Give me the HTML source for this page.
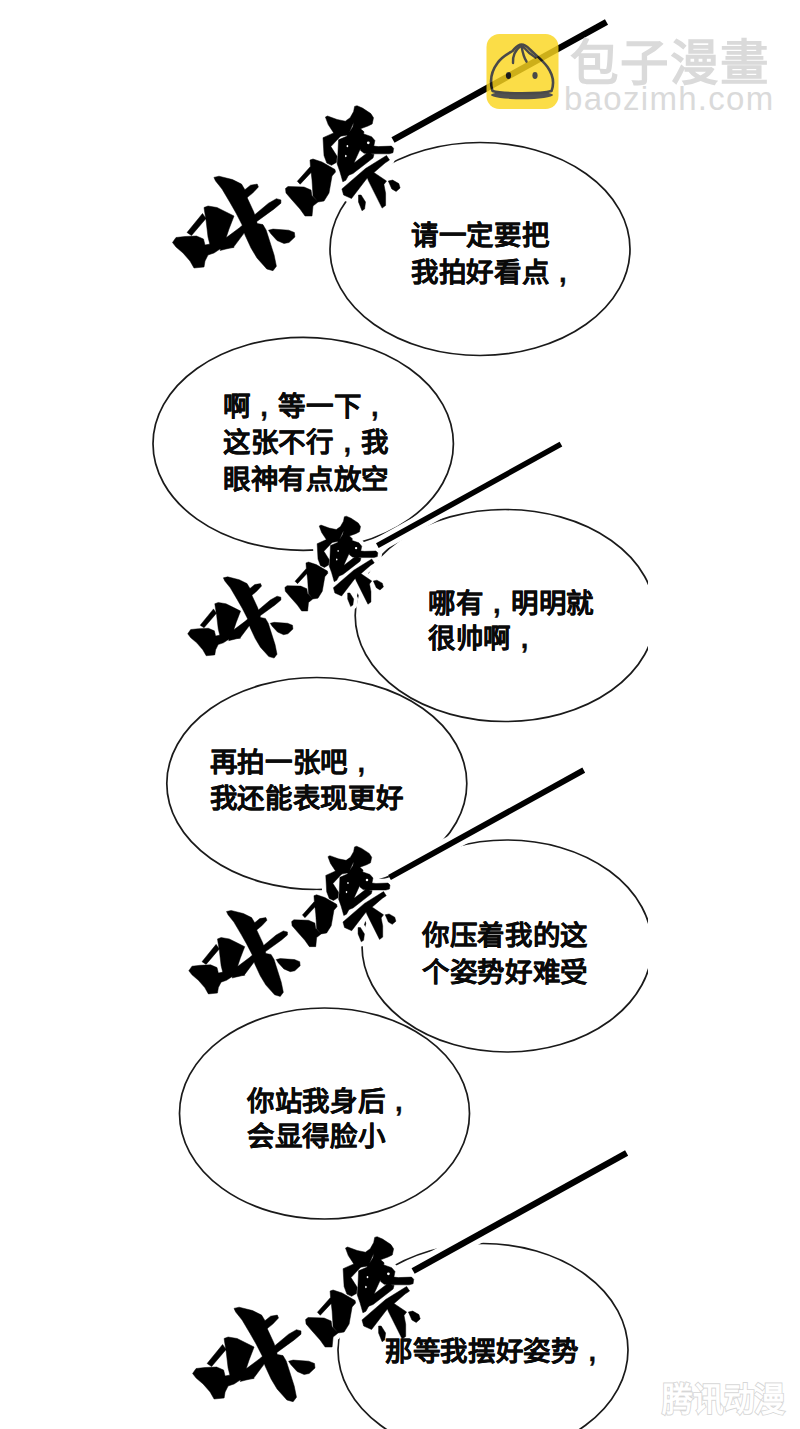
<!DOCTYPE html>
<html lang="zh-CN"><head><meta charset="utf-8">
<style>
html,body{margin:0;padding:0;background:#fff;}
body{width:800px;height:1429px;position:relative;overflow:hidden;font-family:"Liberation Sans",sans-serif;}
svg{position:absolute;left:0;top:0;}
.t{position:absolute;font-size:27.5px;line-height:36.8px;font-weight:bold;color:#0a0a0a;white-space:nowrap;-webkit-text-stroke:0.1px #0a0a0a;letter-spacing:0.7px;}
.cm{display:inline-block;width:1em;text-align:center;font-weight:bold;-webkit-text-stroke:0.3px #0a0a0a;}
.wm1{position:absolute;left:570px;top:33px;font-size:48.5px;font-weight:bold;color:#dadada;letter-spacing:1px;white-space:nowrap;line-height:60px;}
.wm2{position:absolute;left:564px;top:80px;font-size:33px;color:#dadada;letter-spacing:1.3px;white-space:nowrap;line-height:38px;}
</style></head><body>
<svg width="800" height="1429" viewBox="0 0 800 1429">
<defs>
<clipPath id="cl"><rect x="0" y="0" width="648" height="1429"/></clipPath>
</defs>
<g clip-path="url(#cl)">
<g fill="none" stroke="#1a1a1a" stroke-width="1.7">
<ellipse cx="480.0" cy="249.0" rx="150.0" ry="106.5"/>
<ellipse cx="303.2" cy="443.8" rx="150.2" ry="106.5"/>
<ellipse cx="505.2" cy="615.5" rx="150.0" ry="106.0"/>
<ellipse cx="316.8" cy="783.5" rx="150.0" ry="106.0"/>
<ellipse cx="507.0" cy="946.0" rx="145.0" ry="106.0"/>
<ellipse cx="324.5" cy="1113.5" rx="145.0" ry="105.5"/>
<ellipse cx="483.0" cy="1350.0" rx="145.0" ry="106.5"/>
</g>
<g fill="#fff" stroke="#fff" stroke-width="10" stroke-linejoin="round">
<path d="M202.5 213.5 L206.0 218.5 L191.5 235.5 L187.0 232.5Z M204.0 207.5 L208.0 206.0 L217.0 207.5 L226.0 212.0 L234.0 216.0 L232.5 220.0 L229.0 229.0 L226.0 238.0 L220.0 246.0 L210.0 245.0 L208.0 237.0 L206.0 220.0 L204.5 211.0Z M172.5 242.5 L176.0 237.5 L185.0 236.5 L196.5 236.0 L203.5 239.0 L205.0 245.0 L210.0 244.0 L219.0 241.0 L226.0 239.0 L234.0 247.5 L220.0 249.0 L214.0 253.0 L208.0 255.0 L205.0 261.0 L204.0 267.0 L194.0 268.0 L190.0 261.0 L183.0 253.0 L176.0 247.0Z M225.7 238.1 L239.2 228.0 L255.0 214.5 L268.5 203.2 L276.4 198.7 L280.9 199.9 L280.9 203.2 L274.1 208.9 L257.2 221.2 L243.7 233.6 L233.6 247.1 L220.1 250.5Z M213.9 177.4 L219.0 176.2 L232.5 179.6 L241.5 184.1 L244.9 189.7 L247.1 197.6 L253.9 212.2 L257.2 223.5 L262.9 224.6 L266.2 230.2 L274.1 255.0 L276.4 266.2 L273.0 270.7 L266.8 269.0 L257.0 258.0 L251.0 248.0 L245.0 235.0 L242.3 225.3 L236.0 213.0 L230.0 202.5 L222.0 189.0 L215.6 181.0Z M244.9 189.7 L250.5 185.2 L257.2 184.1 L258.4 186.9 L252.7 193.1 L247.1 197.6Z M268.5 230.2 L273.0 229.1 L288.7 230.2 L294.4 232.5 L294.9 237.0 L289.0 242.5 L284.0 243.5 L277.0 240.5 L270.7 233.6Z M310.2 166.8 L312.3 171.2 L300.2 184.2 L297.3 181.3Z M310.0 160.0 L313.0 159.0 L322.0 162.0 L335.0 169.5 L335.5 172.0 L332.0 176.0 L329.0 193.0 L324.0 201.0 L318.0 202.0 L313.0 196.0 L312.0 180.0 L310.5 167.0Z M285.5 188.5 L288.0 186.5 L304.0 187.0 L311.0 190.0 L312.0 196.0 L313.0 196.5 L318.0 202.0 L313.0 206.0 L312.0 216.0 L305.0 216.0 L300.0 209.0 L292.0 200.0 L286.0 193.0Z M325.4 117.1 L327.5 116.0 L337.1 119.5 L345.3 121.2 L350.1 117.8 L353.6 111.6 L354.6 106.4 L357.0 105.7 L362.5 108.1 L370.8 113.6 L373.5 117.8 L372.2 123.9 L368.0 126.0 L360.5 128.8 L352.9 126.7 L353.6 122.6 L348.1 134.9 L340.5 136.3 L333.7 132.9 L328.2 124.6Z M323.0 137.7 L333.7 132.9 L340.5 136.3 L330.9 146.6 L337.1 156.3 L336.4 162.4 L331.5 165.3 L326.8 163.1 L324.0 155.6Z M338.5 139.8 L346.7 136.3 L352.9 126.7 L360.5 128.8 L364.0 131.8 L360.6 148.3 L355.1 160.3 L351.3 170.2 L345.8 180.3 L342.8 181.8 L341.3 176.5 L339.8 171.3 L337.1 163.8 L337.8 156.3Z M359.5 135.1 L363.9 134.0 L371.6 136.7 L374.9 140.6 L373.8 146.1 L378.2 146.6 L391.4 146.1 L393.6 148.3 L393.0 152.7 L389.2 153.8 L373.8 153.8 L364.0 153.2 L360.6 150.5 L359.5 142.8Z M367.0 153.0 L374.0 154.5 L373.0 158.0 L353.0 173.5 L348.0 175.5 L346.5 171.5 L349.5 166.5Z M386.5 155.5 L389.5 160.0 L385.0 163.0 L366.4 179.0 L351.5 198.5 L343.6 195.0 L341.9 188.9 L365.5 168.5Z M365.5 169.6 L373.4 172.2 L386.5 181.0 L383.9 184.5 L385.6 193.2 L385.6 205.5 L382.1 208.1 L368.1 180.1Z M388.3 181.0 L392.6 180.1 L398.8 183.6 L400.1 188.0 L396.1 191.5 L391.8 188.9Z M358.5 195.0 L361.1 195.0 L365.5 202.0 L364.6 209.0 L362.0 210.7 L358.5 202.0Z" transform="matrix(1.0000 0 0 1.0000 0.00 0.00)"/>
<path d="M202.5 213.5 L206.0 218.5 L191.5 235.5 L187.0 232.5Z M204.0 207.5 L208.0 206.0 L217.0 207.5 L226.0 212.0 L234.0 216.0 L232.5 220.0 L229.0 229.0 L226.0 238.0 L220.0 246.0 L210.0 245.0 L208.0 237.0 L206.0 220.0 L204.5 211.0Z M172.5 242.5 L176.0 237.5 L185.0 236.5 L196.5 236.0 L203.5 239.0 L205.0 245.0 L210.0 244.0 L219.0 241.0 L226.0 239.0 L234.0 247.5 L220.0 249.0 L214.0 253.0 L208.0 255.0 L205.0 261.0 L204.0 267.0 L194.0 268.0 L190.0 261.0 L183.0 253.0 L176.0 247.0Z M225.7 238.1 L239.2 228.0 L255.0 214.5 L268.5 203.2 L276.4 198.7 L280.9 199.9 L280.9 203.2 L274.1 208.9 L257.2 221.2 L243.7 233.6 L233.6 247.1 L220.1 250.5Z M213.9 177.4 L219.0 176.2 L232.5 179.6 L241.5 184.1 L244.9 189.7 L247.1 197.6 L253.9 212.2 L257.2 223.5 L262.9 224.6 L266.2 230.2 L274.1 255.0 L276.4 266.2 L273.0 270.7 L266.8 269.0 L257.0 258.0 L251.0 248.0 L245.0 235.0 L242.3 225.3 L236.0 213.0 L230.0 202.5 L222.0 189.0 L215.6 181.0Z M244.9 189.7 L250.5 185.2 L257.2 184.1 L258.4 186.9 L252.7 193.1 L247.1 197.6Z M268.5 230.2 L273.0 229.1 L288.7 230.2 L294.4 232.5 L294.9 237.0 L289.0 242.5 L284.0 243.5 L277.0 240.5 L270.7 233.6Z M310.2 166.8 L312.3 171.2 L300.2 184.2 L297.3 181.3Z M310.0 160.0 L313.0 159.0 L322.0 162.0 L335.0 169.5 L335.5 172.0 L332.0 176.0 L329.0 193.0 L324.0 201.0 L318.0 202.0 L313.0 196.0 L312.0 180.0 L310.5 167.0Z M285.5 188.5 L288.0 186.5 L304.0 187.0 L311.0 190.0 L312.0 196.0 L313.0 196.5 L318.0 202.0 L313.0 206.0 L312.0 216.0 L305.0 216.0 L300.0 209.0 L292.0 200.0 L286.0 193.0Z M325.4 117.1 L327.5 116.0 L337.1 119.5 L345.3 121.2 L350.1 117.8 L353.6 111.6 L354.6 106.4 L357.0 105.7 L362.5 108.1 L370.8 113.6 L373.5 117.8 L372.2 123.9 L368.0 126.0 L360.5 128.8 L352.9 126.7 L353.6 122.6 L348.1 134.9 L340.5 136.3 L333.7 132.9 L328.2 124.6Z M323.0 137.7 L333.7 132.9 L340.5 136.3 L330.9 146.6 L337.1 156.3 L336.4 162.4 L331.5 165.3 L326.8 163.1 L324.0 155.6Z M338.5 139.8 L346.7 136.3 L352.9 126.7 L360.5 128.8 L364.0 131.8 L360.6 148.3 L355.1 160.3 L351.3 170.2 L345.8 180.3 L342.8 181.8 L341.3 176.5 L339.8 171.3 L337.1 163.8 L337.8 156.3Z M359.5 135.1 L363.9 134.0 L371.6 136.7 L374.9 140.6 L373.8 146.1 L378.2 146.6 L391.4 146.1 L393.6 148.3 L393.0 152.7 L389.2 153.8 L373.8 153.8 L364.0 153.2 L360.6 150.5 L359.5 142.8Z M367.0 153.0 L374.0 154.5 L373.0 158.0 L353.0 173.5 L348.0 175.5 L346.5 171.5 L349.5 166.5Z M386.5 155.5 L389.5 160.0 L385.0 163.0 L366.4 179.0 L351.5 198.5 L343.6 195.0 L341.9 188.9 L365.5 168.5Z M365.5 169.6 L373.4 172.2 L386.5 181.0 L383.9 184.5 L385.6 193.2 L385.6 205.5 L382.1 208.1 L368.1 180.1Z M388.3 181.0 L392.6 180.1 L398.8 183.6 L400.1 188.0 L396.1 191.5 L391.8 188.9Z M358.5 195.0 L361.1 195.0 L365.5 202.0 L364.6 209.0 L362.0 210.7 L358.5 202.0Z" transform="matrix(0.8600 0 0 0.8600 39.35 425.28)"/>
<path d="M202.5 213.5 L206.0 218.5 L191.5 235.5 L187.0 232.5Z M204.0 207.5 L208.0 206.0 L217.0 207.5 L226.0 212.0 L234.0 216.0 L232.5 220.0 L229.0 229.0 L226.0 238.0 L220.0 246.0 L210.0 245.0 L208.0 237.0 L206.0 220.0 L204.5 211.0Z M172.5 242.5 L176.0 237.5 L185.0 236.5 L196.5 236.0 L203.5 239.0 L205.0 245.0 L210.0 244.0 L219.0 241.0 L226.0 239.0 L234.0 247.5 L220.0 249.0 L214.0 253.0 L208.0 255.0 L205.0 261.0 L204.0 267.0 L194.0 268.0 L190.0 261.0 L183.0 253.0 L176.0 247.0Z M225.7 238.1 L239.2 228.0 L255.0 214.5 L268.5 203.2 L276.4 198.7 L280.9 199.9 L280.9 203.2 L274.1 208.9 L257.2 221.2 L243.7 233.6 L233.6 247.1 L220.1 250.5Z M213.9 177.4 L219.0 176.2 L232.5 179.6 L241.5 184.1 L244.9 189.7 L247.1 197.6 L253.9 212.2 L257.2 223.5 L262.9 224.6 L266.2 230.2 L274.1 255.0 L276.4 266.2 L273.0 270.7 L266.8 269.0 L257.0 258.0 L251.0 248.0 L245.0 235.0 L242.3 225.3 L236.0 213.0 L230.0 202.5 L222.0 189.0 L215.6 181.0Z M244.9 189.7 L250.5 185.2 L257.2 184.1 L258.4 186.9 L252.7 193.1 L247.1 197.6Z M268.5 230.2 L273.0 229.1 L288.7 230.2 L294.4 232.5 L294.9 237.0 L289.0 242.5 L284.0 243.5 L277.0 240.5 L270.7 233.6Z M310.2 166.8 L312.3 171.2 L300.2 184.2 L297.3 181.3Z M310.0 160.0 L313.0 159.0 L322.0 162.0 L335.0 169.5 L335.5 172.0 L332.0 176.0 L329.0 193.0 L324.0 201.0 L318.0 202.0 L313.0 196.0 L312.0 180.0 L310.5 167.0Z M285.5 188.5 L288.0 186.5 L304.0 187.0 L311.0 190.0 L312.0 196.0 L313.0 196.5 L318.0 202.0 L313.0 206.0 L312.0 216.0 L305.0 216.0 L300.0 209.0 L292.0 200.0 L286.0 193.0Z M325.4 117.1 L327.5 116.0 L337.1 119.5 L345.3 121.2 L350.1 117.8 L353.6 111.6 L354.6 106.4 L357.0 105.7 L362.5 108.1 L370.8 113.6 L373.5 117.8 L372.2 123.9 L368.0 126.0 L360.5 128.8 L352.9 126.7 L353.6 122.6 L348.1 134.9 L340.5 136.3 L333.7 132.9 L328.2 124.6Z M323.0 137.7 L333.7 132.9 L340.5 136.3 L330.9 146.6 L337.1 156.3 L336.4 162.4 L331.5 165.3 L326.8 163.1 L324.0 155.6Z M338.5 139.8 L346.7 136.3 L352.9 126.7 L360.5 128.8 L364.0 131.8 L360.6 148.3 L355.1 160.3 L351.3 170.2 L345.8 180.3 L342.8 181.8 L341.3 176.5 L339.8 171.3 L337.1 163.8 L337.8 156.3Z M359.5 135.1 L363.9 134.0 L371.6 136.7 L374.9 140.6 L373.8 146.1 L378.2 146.6 L391.4 146.1 L393.6 148.3 L393.0 152.7 L389.2 153.8 L373.8 153.8 L364.0 153.2 L360.6 150.5 L359.5 142.8Z M367.0 153.0 L374.0 154.5 L373.0 158.0 L353.0 173.5 L348.0 175.5 L346.5 171.5 L349.5 166.5Z M386.5 155.5 L389.5 160.0 L385.0 163.0 L366.4 179.0 L351.5 198.5 L343.6 195.0 L341.9 188.9 L365.5 168.5Z M365.5 169.6 L373.4 172.2 L386.5 181.0 L383.9 184.5 L385.6 193.2 L385.6 205.5 L382.1 208.1 L368.1 180.1Z M388.3 181.0 L392.6 180.1 L398.8 183.6 L400.1 188.0 L396.1 191.5 L391.8 188.9Z M358.5 195.0 L361.1 195.0 L365.5 202.0 L364.6 209.0 L362.0 210.7 L358.5 202.0Z" transform="matrix(0.9100 0 0 0.9100 31.83 750.08)"/>
<path d="M202.5 213.5 L206.0 218.5 L191.5 235.5 L187.0 232.5Z M204.0 207.5 L208.0 206.0 L217.0 207.5 L226.0 212.0 L234.0 216.0 L232.5 220.0 L229.0 229.0 L226.0 238.0 L220.0 246.0 L210.0 245.0 L208.0 237.0 L206.0 220.0 L204.5 211.0Z M172.5 242.5 L176.0 237.5 L185.0 236.5 L196.5 236.0 L203.5 239.0 L205.0 245.0 L210.0 244.0 L219.0 241.0 L226.0 239.0 L234.0 247.5 L220.0 249.0 L214.0 253.0 L208.0 255.0 L205.0 261.0 L204.0 267.0 L194.0 268.0 L190.0 261.0 L183.0 253.0 L176.0 247.0Z M225.7 238.1 L239.2 228.0 L255.0 214.5 L268.5 203.2 L276.4 198.7 L280.9 199.9 L280.9 203.2 L274.1 208.9 L257.2 221.2 L243.7 233.6 L233.6 247.1 L220.1 250.5Z M213.9 177.4 L219.0 176.2 L232.5 179.6 L241.5 184.1 L244.9 189.7 L247.1 197.6 L253.9 212.2 L257.2 223.5 L262.9 224.6 L266.2 230.2 L274.1 255.0 L276.4 266.2 L273.0 270.7 L266.8 269.0 L257.0 258.0 L251.0 248.0 L245.0 235.0 L242.3 225.3 L236.0 213.0 L230.0 202.5 L222.0 189.0 L215.6 181.0Z M244.9 189.7 L250.5 185.2 L257.2 184.1 L258.4 186.9 L252.7 193.1 L247.1 197.6Z M268.5 230.2 L273.0 229.1 L288.7 230.2 L294.4 232.5 L294.9 237.0 L289.0 242.5 L284.0 243.5 L277.0 240.5 L270.7 233.6Z M310.2 166.8 L312.3 171.2 L300.2 184.2 L297.3 181.3Z M310.0 160.0 L313.0 159.0 L322.0 162.0 L335.0 169.5 L335.5 172.0 L332.0 176.0 L329.0 193.0 L324.0 201.0 L318.0 202.0 L313.0 196.0 L312.0 180.0 L310.5 167.0Z M285.5 188.5 L288.0 186.5 L304.0 187.0 L311.0 190.0 L312.0 196.0 L313.0 196.5 L318.0 202.0 L313.0 206.0 L312.0 216.0 L305.0 216.0 L300.0 209.0 L292.0 200.0 L286.0 193.0Z M325.4 117.1 L327.5 116.0 L337.1 119.5 L345.3 121.2 L350.1 117.8 L353.6 111.6 L354.6 106.4 L357.0 105.7 L362.5 108.1 L370.8 113.6 L373.5 117.8 L372.2 123.9 L368.0 126.0 L360.5 128.8 L352.9 126.7 L353.6 122.6 L348.1 134.9 L340.5 136.3 L333.7 132.9 L328.2 124.6Z M323.0 137.7 L333.7 132.9 L340.5 136.3 L330.9 146.6 L337.1 156.3 L336.4 162.4 L331.5 165.3 L326.8 163.1 L324.0 155.6Z M338.5 139.8 L346.7 136.3 L352.9 126.7 L360.5 128.8 L364.0 131.8 L360.6 148.3 L355.1 160.3 L351.3 170.2 L345.8 180.3 L342.8 181.8 L341.3 176.5 L339.8 171.3 L337.1 163.8 L337.8 156.3Z M359.5 135.1 L363.9 134.0 L371.6 136.7 L374.9 140.6 L373.8 146.1 L378.2 146.6 L391.4 146.1 L393.6 148.3 L393.0 152.7 L389.2 153.8 L373.8 153.8 L364.0 153.2 L360.6 150.5 L359.5 142.8Z M367.0 153.0 L374.0 154.5 L373.0 158.0 L353.0 173.5 L348.0 175.5 L346.5 171.5 L349.5 166.5Z M386.5 155.5 L389.5 160.0 L385.0 163.0 L366.4 179.0 L351.5 198.5 L343.6 195.0 L341.9 188.9 L365.5 168.5Z M365.5 169.6 L373.4 172.2 L386.5 181.0 L383.9 184.5 L385.6 193.2 L385.6 205.5 L382.1 208.1 L368.1 180.1Z M388.3 181.0 L392.6 180.1 L398.8 183.6 L400.1 188.0 L396.1 191.5 L391.8 188.9Z M358.5 195.0 L361.1 195.0 L365.5 202.0 L364.6 209.0 L362.0 210.7 L358.5 202.0Z" transform="matrix(1.0000 0 0 1.0000 20.10 1131.00)"/>
</g>
<g fill="none" stroke="#fff" stroke-width="17">
<path d="M393.0 140.0 L606.5 22.0" transform="matrix(1.0000 0 0 1.0000 0.00 0.00)"/>
<path d="M393.0 140.0 L606.5 22.0" transform="matrix(0.8600 0 0 0.8600 39.35 425.28)"/>
<path d="M393.0 140.0 L606.5 22.0" transform="matrix(0.9100 0 0 0.9100 31.83 750.08)"/>
<path d="M393.0 140.0 L606.5 22.0" transform="matrix(1.0000 0 0 1.0000 20.10 1131.00)"/>
</g>
<g fill="#000" stroke="#000" stroke-width="0.5" stroke-linejoin="round">
<path d="M202.5 213.5 L206.0 218.5 L191.5 235.5 L187.0 232.5Z M204.0 207.5 L208.0 206.0 L217.0 207.5 L226.0 212.0 L234.0 216.0 L232.5 220.0 L229.0 229.0 L226.0 238.0 L220.0 246.0 L210.0 245.0 L208.0 237.0 L206.0 220.0 L204.5 211.0Z M172.5 242.5 L176.0 237.5 L185.0 236.5 L196.5 236.0 L203.5 239.0 L205.0 245.0 L210.0 244.0 L219.0 241.0 L226.0 239.0 L234.0 247.5 L220.0 249.0 L214.0 253.0 L208.0 255.0 L205.0 261.0 L204.0 267.0 L194.0 268.0 L190.0 261.0 L183.0 253.0 L176.0 247.0Z M225.7 238.1 L239.2 228.0 L255.0 214.5 L268.5 203.2 L276.4 198.7 L280.9 199.9 L280.9 203.2 L274.1 208.9 L257.2 221.2 L243.7 233.6 L233.6 247.1 L220.1 250.5Z M213.9 177.4 L219.0 176.2 L232.5 179.6 L241.5 184.1 L244.9 189.7 L247.1 197.6 L253.9 212.2 L257.2 223.5 L262.9 224.6 L266.2 230.2 L274.1 255.0 L276.4 266.2 L273.0 270.7 L266.8 269.0 L257.0 258.0 L251.0 248.0 L245.0 235.0 L242.3 225.3 L236.0 213.0 L230.0 202.5 L222.0 189.0 L215.6 181.0Z M244.9 189.7 L250.5 185.2 L257.2 184.1 L258.4 186.9 L252.7 193.1 L247.1 197.6Z M268.5 230.2 L273.0 229.1 L288.7 230.2 L294.4 232.5 L294.9 237.0 L289.0 242.5 L284.0 243.5 L277.0 240.5 L270.7 233.6Z M310.2 166.8 L312.3 171.2 L300.2 184.2 L297.3 181.3Z M310.0 160.0 L313.0 159.0 L322.0 162.0 L335.0 169.5 L335.5 172.0 L332.0 176.0 L329.0 193.0 L324.0 201.0 L318.0 202.0 L313.0 196.0 L312.0 180.0 L310.5 167.0Z M285.5 188.5 L288.0 186.5 L304.0 187.0 L311.0 190.0 L312.0 196.0 L313.0 196.5 L318.0 202.0 L313.0 206.0 L312.0 216.0 L305.0 216.0 L300.0 209.0 L292.0 200.0 L286.0 193.0Z M325.4 117.1 L327.5 116.0 L337.1 119.5 L345.3 121.2 L350.1 117.8 L353.6 111.6 L354.6 106.4 L357.0 105.7 L362.5 108.1 L370.8 113.6 L373.5 117.8 L372.2 123.9 L368.0 126.0 L360.5 128.8 L352.9 126.7 L353.6 122.6 L348.1 134.9 L340.5 136.3 L333.7 132.9 L328.2 124.6Z M323.0 137.7 L333.7 132.9 L340.5 136.3 L330.9 146.6 L337.1 156.3 L336.4 162.4 L331.5 165.3 L326.8 163.1 L324.0 155.6Z M338.5 139.8 L346.7 136.3 L352.9 126.7 L360.5 128.8 L364.0 131.8 L360.6 148.3 L355.1 160.3 L351.3 170.2 L345.8 180.3 L342.8 181.8 L341.3 176.5 L339.8 171.3 L337.1 163.8 L337.8 156.3Z M359.5 135.1 L363.9 134.0 L371.6 136.7 L374.9 140.6 L373.8 146.1 L378.2 146.6 L391.4 146.1 L393.6 148.3 L393.0 152.7 L389.2 153.8 L373.8 153.8 L364.0 153.2 L360.6 150.5 L359.5 142.8Z M367.0 153.0 L374.0 154.5 L373.0 158.0 L353.0 173.5 L348.0 175.5 L346.5 171.5 L349.5 166.5Z M386.5 155.5 L389.5 160.0 L385.0 163.0 L366.4 179.0 L351.5 198.5 L343.6 195.0 L341.9 188.9 L365.5 168.5Z M365.5 169.6 L373.4 172.2 L386.5 181.0 L383.9 184.5 L385.6 193.2 L385.6 205.5 L382.1 208.1 L368.1 180.1Z M388.3 181.0 L392.6 180.1 L398.8 183.6 L400.1 188.0 L396.1 191.5 L391.8 188.9Z M358.5 195.0 L361.1 195.0 L365.5 202.0 L364.6 209.0 L362.0 210.7 L358.5 202.0Z" transform="matrix(1.0000 0 0 1.0000 0.00 0.00)"/>
<path d="M202.5 213.5 L206.0 218.5 L191.5 235.5 L187.0 232.5Z M204.0 207.5 L208.0 206.0 L217.0 207.5 L226.0 212.0 L234.0 216.0 L232.5 220.0 L229.0 229.0 L226.0 238.0 L220.0 246.0 L210.0 245.0 L208.0 237.0 L206.0 220.0 L204.5 211.0Z M172.5 242.5 L176.0 237.5 L185.0 236.5 L196.5 236.0 L203.5 239.0 L205.0 245.0 L210.0 244.0 L219.0 241.0 L226.0 239.0 L234.0 247.5 L220.0 249.0 L214.0 253.0 L208.0 255.0 L205.0 261.0 L204.0 267.0 L194.0 268.0 L190.0 261.0 L183.0 253.0 L176.0 247.0Z M225.7 238.1 L239.2 228.0 L255.0 214.5 L268.5 203.2 L276.4 198.7 L280.9 199.9 L280.9 203.2 L274.1 208.9 L257.2 221.2 L243.7 233.6 L233.6 247.1 L220.1 250.5Z M213.9 177.4 L219.0 176.2 L232.5 179.6 L241.5 184.1 L244.9 189.7 L247.1 197.6 L253.9 212.2 L257.2 223.5 L262.9 224.6 L266.2 230.2 L274.1 255.0 L276.4 266.2 L273.0 270.7 L266.8 269.0 L257.0 258.0 L251.0 248.0 L245.0 235.0 L242.3 225.3 L236.0 213.0 L230.0 202.5 L222.0 189.0 L215.6 181.0Z M244.9 189.7 L250.5 185.2 L257.2 184.1 L258.4 186.9 L252.7 193.1 L247.1 197.6Z M268.5 230.2 L273.0 229.1 L288.7 230.2 L294.4 232.5 L294.9 237.0 L289.0 242.5 L284.0 243.5 L277.0 240.5 L270.7 233.6Z M310.2 166.8 L312.3 171.2 L300.2 184.2 L297.3 181.3Z M310.0 160.0 L313.0 159.0 L322.0 162.0 L335.0 169.5 L335.5 172.0 L332.0 176.0 L329.0 193.0 L324.0 201.0 L318.0 202.0 L313.0 196.0 L312.0 180.0 L310.5 167.0Z M285.5 188.5 L288.0 186.5 L304.0 187.0 L311.0 190.0 L312.0 196.0 L313.0 196.5 L318.0 202.0 L313.0 206.0 L312.0 216.0 L305.0 216.0 L300.0 209.0 L292.0 200.0 L286.0 193.0Z M325.4 117.1 L327.5 116.0 L337.1 119.5 L345.3 121.2 L350.1 117.8 L353.6 111.6 L354.6 106.4 L357.0 105.7 L362.5 108.1 L370.8 113.6 L373.5 117.8 L372.2 123.9 L368.0 126.0 L360.5 128.8 L352.9 126.7 L353.6 122.6 L348.1 134.9 L340.5 136.3 L333.7 132.9 L328.2 124.6Z M323.0 137.7 L333.7 132.9 L340.5 136.3 L330.9 146.6 L337.1 156.3 L336.4 162.4 L331.5 165.3 L326.8 163.1 L324.0 155.6Z M338.5 139.8 L346.7 136.3 L352.9 126.7 L360.5 128.8 L364.0 131.8 L360.6 148.3 L355.1 160.3 L351.3 170.2 L345.8 180.3 L342.8 181.8 L341.3 176.5 L339.8 171.3 L337.1 163.8 L337.8 156.3Z M359.5 135.1 L363.9 134.0 L371.6 136.7 L374.9 140.6 L373.8 146.1 L378.2 146.6 L391.4 146.1 L393.6 148.3 L393.0 152.7 L389.2 153.8 L373.8 153.8 L364.0 153.2 L360.6 150.5 L359.5 142.8Z M367.0 153.0 L374.0 154.5 L373.0 158.0 L353.0 173.5 L348.0 175.5 L346.5 171.5 L349.5 166.5Z M386.5 155.5 L389.5 160.0 L385.0 163.0 L366.4 179.0 L351.5 198.5 L343.6 195.0 L341.9 188.9 L365.5 168.5Z M365.5 169.6 L373.4 172.2 L386.5 181.0 L383.9 184.5 L385.6 193.2 L385.6 205.5 L382.1 208.1 L368.1 180.1Z M388.3 181.0 L392.6 180.1 L398.8 183.6 L400.1 188.0 L396.1 191.5 L391.8 188.9Z M358.5 195.0 L361.1 195.0 L365.5 202.0 L364.6 209.0 L362.0 210.7 L358.5 202.0Z" transform="matrix(0.8600 0 0 0.8600 39.35 425.28)"/>
<path d="M202.5 213.5 L206.0 218.5 L191.5 235.5 L187.0 232.5Z M204.0 207.5 L208.0 206.0 L217.0 207.5 L226.0 212.0 L234.0 216.0 L232.5 220.0 L229.0 229.0 L226.0 238.0 L220.0 246.0 L210.0 245.0 L208.0 237.0 L206.0 220.0 L204.5 211.0Z M172.5 242.5 L176.0 237.5 L185.0 236.5 L196.5 236.0 L203.5 239.0 L205.0 245.0 L210.0 244.0 L219.0 241.0 L226.0 239.0 L234.0 247.5 L220.0 249.0 L214.0 253.0 L208.0 255.0 L205.0 261.0 L204.0 267.0 L194.0 268.0 L190.0 261.0 L183.0 253.0 L176.0 247.0Z M225.7 238.1 L239.2 228.0 L255.0 214.5 L268.5 203.2 L276.4 198.7 L280.9 199.9 L280.9 203.2 L274.1 208.9 L257.2 221.2 L243.7 233.6 L233.6 247.1 L220.1 250.5Z M213.9 177.4 L219.0 176.2 L232.5 179.6 L241.5 184.1 L244.9 189.7 L247.1 197.6 L253.9 212.2 L257.2 223.5 L262.9 224.6 L266.2 230.2 L274.1 255.0 L276.4 266.2 L273.0 270.7 L266.8 269.0 L257.0 258.0 L251.0 248.0 L245.0 235.0 L242.3 225.3 L236.0 213.0 L230.0 202.5 L222.0 189.0 L215.6 181.0Z M244.9 189.7 L250.5 185.2 L257.2 184.1 L258.4 186.9 L252.7 193.1 L247.1 197.6Z M268.5 230.2 L273.0 229.1 L288.7 230.2 L294.4 232.5 L294.9 237.0 L289.0 242.5 L284.0 243.5 L277.0 240.5 L270.7 233.6Z M310.2 166.8 L312.3 171.2 L300.2 184.2 L297.3 181.3Z M310.0 160.0 L313.0 159.0 L322.0 162.0 L335.0 169.5 L335.5 172.0 L332.0 176.0 L329.0 193.0 L324.0 201.0 L318.0 202.0 L313.0 196.0 L312.0 180.0 L310.5 167.0Z M285.5 188.5 L288.0 186.5 L304.0 187.0 L311.0 190.0 L312.0 196.0 L313.0 196.5 L318.0 202.0 L313.0 206.0 L312.0 216.0 L305.0 216.0 L300.0 209.0 L292.0 200.0 L286.0 193.0Z M325.4 117.1 L327.5 116.0 L337.1 119.5 L345.3 121.2 L350.1 117.8 L353.6 111.6 L354.6 106.4 L357.0 105.7 L362.5 108.1 L370.8 113.6 L373.5 117.8 L372.2 123.9 L368.0 126.0 L360.5 128.8 L352.9 126.7 L353.6 122.6 L348.1 134.9 L340.5 136.3 L333.7 132.9 L328.2 124.6Z M323.0 137.7 L333.7 132.9 L340.5 136.3 L330.9 146.6 L337.1 156.3 L336.4 162.4 L331.5 165.3 L326.8 163.1 L324.0 155.6Z M338.5 139.8 L346.7 136.3 L352.9 126.7 L360.5 128.8 L364.0 131.8 L360.6 148.3 L355.1 160.3 L351.3 170.2 L345.8 180.3 L342.8 181.8 L341.3 176.5 L339.8 171.3 L337.1 163.8 L337.8 156.3Z M359.5 135.1 L363.9 134.0 L371.6 136.7 L374.9 140.6 L373.8 146.1 L378.2 146.6 L391.4 146.1 L393.6 148.3 L393.0 152.7 L389.2 153.8 L373.8 153.8 L364.0 153.2 L360.6 150.5 L359.5 142.8Z M367.0 153.0 L374.0 154.5 L373.0 158.0 L353.0 173.5 L348.0 175.5 L346.5 171.5 L349.5 166.5Z M386.5 155.5 L389.5 160.0 L385.0 163.0 L366.4 179.0 L351.5 198.5 L343.6 195.0 L341.9 188.9 L365.5 168.5Z M365.5 169.6 L373.4 172.2 L386.5 181.0 L383.9 184.5 L385.6 193.2 L385.6 205.5 L382.1 208.1 L368.1 180.1Z M388.3 181.0 L392.6 180.1 L398.8 183.6 L400.1 188.0 L396.1 191.5 L391.8 188.9Z M358.5 195.0 L361.1 195.0 L365.5 202.0 L364.6 209.0 L362.0 210.7 L358.5 202.0Z" transform="matrix(0.9100 0 0 0.9100 31.83 750.08)"/>
<path d="M202.5 213.5 L206.0 218.5 L191.5 235.5 L187.0 232.5Z M204.0 207.5 L208.0 206.0 L217.0 207.5 L226.0 212.0 L234.0 216.0 L232.5 220.0 L229.0 229.0 L226.0 238.0 L220.0 246.0 L210.0 245.0 L208.0 237.0 L206.0 220.0 L204.5 211.0Z M172.5 242.5 L176.0 237.5 L185.0 236.5 L196.5 236.0 L203.5 239.0 L205.0 245.0 L210.0 244.0 L219.0 241.0 L226.0 239.0 L234.0 247.5 L220.0 249.0 L214.0 253.0 L208.0 255.0 L205.0 261.0 L204.0 267.0 L194.0 268.0 L190.0 261.0 L183.0 253.0 L176.0 247.0Z M225.7 238.1 L239.2 228.0 L255.0 214.5 L268.5 203.2 L276.4 198.7 L280.9 199.9 L280.9 203.2 L274.1 208.9 L257.2 221.2 L243.7 233.6 L233.6 247.1 L220.1 250.5Z M213.9 177.4 L219.0 176.2 L232.5 179.6 L241.5 184.1 L244.9 189.7 L247.1 197.6 L253.9 212.2 L257.2 223.5 L262.9 224.6 L266.2 230.2 L274.1 255.0 L276.4 266.2 L273.0 270.7 L266.8 269.0 L257.0 258.0 L251.0 248.0 L245.0 235.0 L242.3 225.3 L236.0 213.0 L230.0 202.5 L222.0 189.0 L215.6 181.0Z M244.9 189.7 L250.5 185.2 L257.2 184.1 L258.4 186.9 L252.7 193.1 L247.1 197.6Z M268.5 230.2 L273.0 229.1 L288.7 230.2 L294.4 232.5 L294.9 237.0 L289.0 242.5 L284.0 243.5 L277.0 240.5 L270.7 233.6Z M310.2 166.8 L312.3 171.2 L300.2 184.2 L297.3 181.3Z M310.0 160.0 L313.0 159.0 L322.0 162.0 L335.0 169.5 L335.5 172.0 L332.0 176.0 L329.0 193.0 L324.0 201.0 L318.0 202.0 L313.0 196.0 L312.0 180.0 L310.5 167.0Z M285.5 188.5 L288.0 186.5 L304.0 187.0 L311.0 190.0 L312.0 196.0 L313.0 196.5 L318.0 202.0 L313.0 206.0 L312.0 216.0 L305.0 216.0 L300.0 209.0 L292.0 200.0 L286.0 193.0Z M325.4 117.1 L327.5 116.0 L337.1 119.5 L345.3 121.2 L350.1 117.8 L353.6 111.6 L354.6 106.4 L357.0 105.7 L362.5 108.1 L370.8 113.6 L373.5 117.8 L372.2 123.9 L368.0 126.0 L360.5 128.8 L352.9 126.7 L353.6 122.6 L348.1 134.9 L340.5 136.3 L333.7 132.9 L328.2 124.6Z M323.0 137.7 L333.7 132.9 L340.5 136.3 L330.9 146.6 L337.1 156.3 L336.4 162.4 L331.5 165.3 L326.8 163.1 L324.0 155.6Z M338.5 139.8 L346.7 136.3 L352.9 126.7 L360.5 128.8 L364.0 131.8 L360.6 148.3 L355.1 160.3 L351.3 170.2 L345.8 180.3 L342.8 181.8 L341.3 176.5 L339.8 171.3 L337.1 163.8 L337.8 156.3Z M359.5 135.1 L363.9 134.0 L371.6 136.7 L374.9 140.6 L373.8 146.1 L378.2 146.6 L391.4 146.1 L393.6 148.3 L393.0 152.7 L389.2 153.8 L373.8 153.8 L364.0 153.2 L360.6 150.5 L359.5 142.8Z M367.0 153.0 L374.0 154.5 L373.0 158.0 L353.0 173.5 L348.0 175.5 L346.5 171.5 L349.5 166.5Z M386.5 155.5 L389.5 160.0 L385.0 163.0 L366.4 179.0 L351.5 198.5 L343.6 195.0 L341.9 188.9 L365.5 168.5Z M365.5 169.6 L373.4 172.2 L386.5 181.0 L383.9 184.5 L385.6 193.2 L385.6 205.5 L382.1 208.1 L368.1 180.1Z M388.3 181.0 L392.6 180.1 L398.8 183.6 L400.1 188.0 L396.1 191.5 L391.8 188.9Z M358.5 195.0 L361.1 195.0 L365.5 202.0 L364.6 209.0 L362.0 210.7 L358.5 202.0Z" transform="matrix(1.0000 0 0 1.0000 20.10 1131.00)"/>
</g>
<g fill="#fff">
<path d="M369.3 141.8 L368.3 141.4 L367.3 141.8 L366.9 142.8 L367.3 143.8 L368.3 144.2 L369.3 143.8 L369.7 142.8Z M348.0 145.3 L347.4 144.9 L346.8 145.3 L346.5 146.1 L346.8 146.9 L347.4 147.3 L348.0 146.9 L348.3 146.1Z M346.4 155.2 L345.8 154.8 L345.2 155.2 L344.9 156.0 L345.2 156.8 L345.8 157.2 L346.4 156.8 L346.7 156.0Z" transform="matrix(1.0000 0 0 1.0000 0.00 0.00)"/>
<path d="M369.3 141.8 L368.3 141.4 L367.3 141.8 L366.9 142.8 L367.3 143.8 L368.3 144.2 L369.3 143.8 L369.7 142.8Z M348.0 145.3 L347.4 144.9 L346.8 145.3 L346.5 146.1 L346.8 146.9 L347.4 147.3 L348.0 146.9 L348.3 146.1Z M346.4 155.2 L345.8 154.8 L345.2 155.2 L344.9 156.0 L345.2 156.8 L345.8 157.2 L346.4 156.8 L346.7 156.0Z" transform="matrix(0.8600 0 0 0.8600 39.35 425.28)"/>
<path d="M369.3 141.8 L368.3 141.4 L367.3 141.8 L366.9 142.8 L367.3 143.8 L368.3 144.2 L369.3 143.8 L369.7 142.8Z M348.0 145.3 L347.4 144.9 L346.8 145.3 L346.5 146.1 L346.8 146.9 L347.4 147.3 L348.0 146.9 L348.3 146.1Z M346.4 155.2 L345.8 154.8 L345.2 155.2 L344.9 156.0 L345.2 156.8 L345.8 157.2 L346.4 156.8 L346.7 156.0Z" transform="matrix(0.9100 0 0 0.9100 31.83 750.08)"/>
<path d="M369.3 141.8 L368.3 141.4 L367.3 141.8 L366.9 142.8 L367.3 143.8 L368.3 144.2 L369.3 143.8 L369.7 142.8Z M348.0 145.3 L347.4 144.9 L346.8 145.3 L346.5 146.1 L346.8 146.9 L347.4 147.3 L348.0 146.9 L348.3 146.1Z M346.4 155.2 L345.8 154.8 L345.2 155.2 L344.9 156.0 L345.2 156.8 L345.8 157.2 L346.4 156.8 L346.7 156.0Z" transform="matrix(1.0000 0 0 1.0000 20.10 1131.00)"/>
</g>
<g fill="none" stroke="#000" stroke-width="6.4">
<path d="M393.0 140.0 L606.5 22.0" transform="matrix(1.0000 0 0 1.0000 0.00 0.00)"/>
<path d="M393.0 140.0 L606.5 22.0" transform="matrix(0.8600 0 0 0.8600 39.35 425.28)"/>
<path d="M393.0 140.0 L606.5 22.0" transform="matrix(0.9100 0 0 0.9100 31.83 750.08)"/>
<path d="M393.0 140.0 L606.5 22.0" transform="matrix(1.0000 0 0 1.0000 20.10 1131.00)"/>
</g>
</g>
</svg>
<div class="t" style="left:411.0px;top:217.95px">请一定要把</div>
<div class="t" style="left:411.0px;top:254.70px">我拍好看点<span class="cm">,</span></div>
<div class="t" style="left:223.0px;top:389.00px">啊<span class="cm">,</span>等一下<span class="cm">,</span></div>
<div class="t" style="left:223.0px;top:425.20px">这张不行<span class="cm">,</span>我</div>
<div class="t" style="left:223.0px;top:462.10px">眼神有点放空</div>
<div class="t" style="left:428.0px;top:585.70px">哪有<span class="cm">,</span>明明就</div>
<div class="t" style="left:428.0px;top:621.40px">很帅啊<span class="cm">,</span></div>
<div class="t" style="left:209.5px;top:744.80px">再拍一张吧<span class="cm">,</span></div>
<div class="t" style="left:209.5px;top:780.70px">我还能表现更好</div>
<div class="t" style="left:422.0px;top:917.95px">你压着我的这</div>
<div class="t" style="left:422.0px;top:954.70px">个姿势好难受</div>
<div class="t" style="left:247.0px;top:1084.40px">你站我身后<span class="cm">,</span></div>
<div class="t" style="left:247.0px;top:1119.40px">会显得脸小</div>
<div class="t" style="left:385.0px;top:1334.45px">那等我摆好姿势<span class="cm">,</span></div>
<svg width="800" height="1429" viewBox="0 0 800 1429" style="pointer-events:none">
<g transform="translate(486.5 34)" opacity="0.82">
<rect x="0" y="0" width="72" height="75" rx="13" ry="13" fill="#fbd61f"/>
<ellipse cx="35.5" cy="61" rx="31" ry="4.2" fill="#2a2a2a"/>
<path d="M6 57 C3 47 5 37 11 29 C15 23 21 20 26 17 C29 14 31 10.5 35 10.5 C39 10.5 41 13 44 16 C49 21 56 26 61 33 C66 40 68 49 65 57 C55 60 16 60 6 57Z" fill="#fbd61f" stroke="#222" stroke-width="2.6" stroke-linejoin="round"/>
<path d="M34 12 C29 16 26 22 26.5 29 M35 12 C36 18 37 23 40 27.5 M37 13 C41 18 45 21 49 23.5" fill="none" stroke="#222" stroke-width="2.4" stroke-linecap="round"/>
<ellipse cx="22" cy="41.5" rx="2.6" ry="3.4" fill="#222"/>
<ellipse cx="48.5" cy="41.5" rx="2.6" ry="3.4" fill="#222"/>
</g>
</svg>
<div class="wm1">包子漫畫</div>
<div class="wm2">baozimh.com</div>
<svg width="800" height="1429" viewBox="0 0 800 1429"><text x="662" y="1411" textLength="123" lengthAdjust="spacingAndGlyphs" font-family="Liberation Sans" font-weight="bold" font-size="33" fill="#fff" stroke="#d6d6d6" stroke-width="1.8" paint-order="stroke">腾讯动漫</text></svg>
</body></html>
